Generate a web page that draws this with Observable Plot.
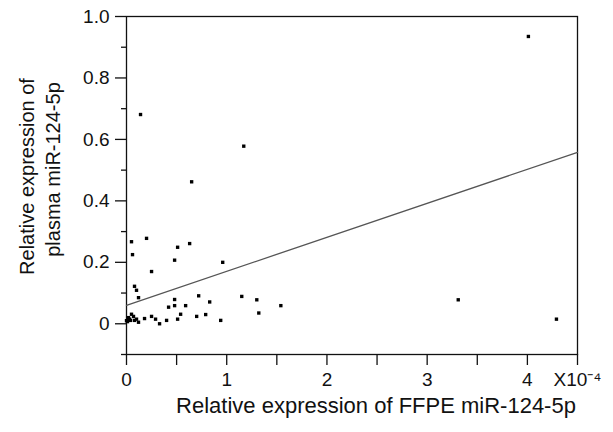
<!DOCTYPE html>
<html>
<head>
<meta charset="utf-8">
<script src="https://cdn.jsdelivr.net/npm/d3@7"></script>
<script src="https://cdn.jsdelivr.net/npm/@observablehq/plot@0.6"></script>
<style>
  html, body { margin: 0; padding: 0; background: #fff; }
  svg { font-family: "Liberation Sans", Arial, sans-serif; }
</style>
</head>
<body>
<div id="chart"></div>
<script>
// FFPE miR-124-5p relative expression (in units of 1e-4)
const ffpe = [4.01, 0.14, 0.65, 1.17, 3.31, 4.29, 1.15, 1.30, 1.32, 1.54,
  0.96, 0.72, 0.83, 0.70, 0.79, 0.94, 0.05, 0.20, 0.06, 0.51,
  0.63, 0.48, 0.25, 0.08, 0.10, 0.12, 0.48, 0.48, 0.42, 0.59,
  0.54, 0.51, 0.40, 0.33, 0.29, 0.25, 0.18, 0.12, 0.10, 0.05,
  0.07, 0.03, 0.01, 0.04, 0.08, 0.00, 0.02];
// plasma miR-124-5p relative expression
const plasma = [0.935, 0.681, 0.462, 0.578, 0.078, 0.015, 0.089, 0.078, 0.035, 0.059,
  0.200, 0.091, 0.071, 0.024, 0.030, 0.011, 0.267, 0.278, 0.225, 0.249,
  0.261, 0.207, 0.170, 0.122, 0.109, 0.085, 0.079, 0.059, 0.054, 0.059,
  0.031, 0.015, 0.011, 0.000, 0.015, 0.024, 0.017, 0.005, 0.015, 0.031,
  0.024, 0.015, 0.007, 0.011, 0.011, 0.010, 0.020];
// fitted regression line (end points)
const fitX = [0, 4.5];
const fitY = [0.06, 0.558];

const xAll = [0, 0.5, 1, 1.5, 2, 2.5, 3, 3.5, 4, 4.5];
const yMajor = [0, 0.2, 0.4, 0.6, 0.8, 1.0];
const yMinor = [-0.1, 0.1, 0.3, 0.5, 0.7, 0.9];
const xUnit = "X10\u207B\u2074";
const xLabel = "Relative expression of FFPE miR-124-5p";
const yLabel1 = "Relative expression of";
const yLabel2 = "plasma miR-124-5p";

const points = ffpe.map((x, i) => ({x, y: plasma[i]}));
const fit = fitX.map((x, i) => ({x, y: fitY[i]}));

const chart = Plot.plot({
  width: 613,
  height: 432,
  marginTop: 16,
  marginBottom: 78,
  marginLeft: 126,
  marginRight: 36,
  style: {fontFamily: "Liberation Sans, Arial, sans-serif", color: "#111", background: "#fff"},
  x: {domain: [0, 4.5]},
  y: {domain: [-0.1, 1.0]},
  marks: [
    Plot.frame({stroke: "#111", strokeWidth: 1.3}),
    Plot.axisX(xAll, {tickSize: 11, tickPadding: 7, fontSize: 19, strokeWidth: 1.3,
      tickFormat: d => Number.isInteger(d) ? String(d) : (d === 4.5 ? xUnit : ""), label: null}),
    Plot.axisY(yMajor, {tickSize: 11, tickPadding: 6, fontSize: 19, strokeWidth: 1.3,
      tickFormat: d => d === 0 ? "0" : d.toFixed(1), label: null}),
    Plot.axisY(yMinor, {tickSize: 5, strokeWidth: 1.3, tickFormat: () => "", label: null}),
    Plot.line(fit, {x: "x", y: "y", stroke: "#555", strokeWidth: 1.3}),
    Plot.dot(points, {x: "x", y: "y", symbol: "square", r: 1.9, fill: "#000"}),
    Plot.text([xLabel], {frameAnchor: "bottom", dx: 24, dy: 51, lineAnchor: "middle", fontSize: 22,
      text: d => d, fill: "#111", style: "letter-spacing: 1.2px"}),
    Plot.text([yLabel1], {frameAnchor: "left", dx: -99, dy: -9, rotate: -90, textAnchor: "middle",
      lineAnchor: "middle", fontSize: 20, text: d => d, fill: "#111"}),
    Plot.text([yLabel2], {frameAnchor: "left", dx: -73, dy: -16, rotate: -90, textAnchor: "middle",
      lineAnchor: "middle", fontSize: 20, text: d => d, fill: "#111"})
  ]
});
document.getElementById("chart").appendChild(chart);
</script>
</body>
</html>
